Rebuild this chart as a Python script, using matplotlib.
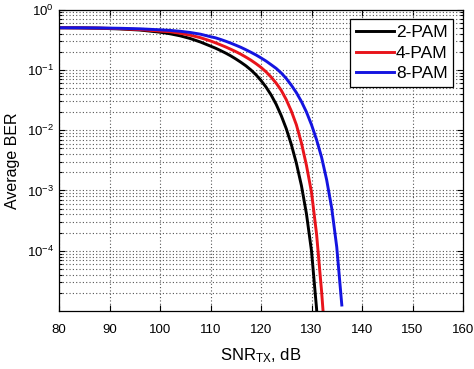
import numpy as np
import matplotlib
matplotlib.use("Agg")
import matplotlib.pyplot as plt
from matplotlib.ticker import LogLocator, NullFormatter

plt.rcParams["font.family"] = ["Liberation Sans", "DejaVu Sans"]
plt.rcParams["mathtext.fontset"] = "custom"
plt.rcParams["mathtext.rm"] = "Liberation Sans"
plt.rcParams["mathtext.it"] = "Liberation Sans"

# values (average BER vs SNR_TX in dB)
snr_2pam = [80, 84, 88, 92, 96, 100, 102, 104, 106, 108, 110, 111, 112, 113,
            114, 115, 116, 117, 118, 119, 120, 121, 122, 123, 124, 125, 126,
            127, 128, 129, 130, 131, 132]
ber_2pam = [0.500, 0.497, 0.490, 0.478, 0.458, 0.422, 0.397, 0.367, 0.331,
            0.290, 0.248, 0.229, 0.209, 0.190, 0.171, 0.152, 0.134, 0.117,
            0.0998, 0.083, 0.0667, 0.0518, 0.0384, 0.0269, 0.0175, 0.0106,
            0.0058, 0.00284, 0.00121, 4.1e-4, 9.9e-5, 1.1e-5, 6.3e-7]

snr_4pam = [80, 84, 88, 92, 96, 100, 102, 104, 106, 108, 110, 111, 112, 113,
            114, 115, 116, 117, 118, 119, 120, 121, 122, 123, 124, 125, 126,
            127, 128, 129, 130, 131, 132, 133]
ber_4pam = [0.500, 0.498, 0.493, 0.483, 0.466, 0.44, 0.429, 0.405, 0.376,
            0.342, 0.302, 0.281, 0.260, 0.240, 0.220, 0.201, 0.182, 0.163,
            0.145, 0.127, 0.110, 0.0927, 0.076, 0.0603, 0.0459, 0.0321,
            0.0208, 0.0123, 0.00617, 0.00261, 9.3e-4, 1.9e-4, 2.1e-5, 1.6e-6]

snr_8pam = [80, 84, 88, 92, 96, 100, 102, 104, 106, 108, 110, 111, 112, 113,
            114, 115, 116, 117, 118, 119, 120, 121, 122, 123, 124, 125, 126,
            127, 128, 129, 130, 131, 132, 133, 134, 135, 136]
ber_8pam = [0.500, 0.499, 0.496, 0.490, 0.480, 0.462, 0.452, 0.437, 0.417,
            0.391, 0.355, 0.340, 0.320, 0.299, 0.278, 0.257, 0.237, 0.216,
            0.196, 0.177, 0.158, 0.140, 0.122, 0.106, 0.089, 0.072, 0.0558,
            0.042, 0.0299, 0.020, 0.0123, 0.00695, 0.00355, 0.0015, 5.1e-4,
            1.15e-4, 1.26e-5]

labels = ["2-PAM", "4-PAM", "8-PAM"]
colors = ["#000000", "#e8141b", "#1414e0"]

fig = plt.figure(figsize=(4.74, 3.69), dpi=100)
ax = fig.add_axes([0.1245, 0.157, 0.8523, 0.817])

for x, y, lab, c in zip([snr_2pam, snr_4pam, snr_8pam],
                        [ber_2pam, ber_4pam, ber_8pam], labels, colors):
    ax.semilogy(x, y, color=c, lw=2.1, label=lab)

ax.set_xlim(80, 160)
ax.set_ylim(1e-5, 1)
ax.set_xticks(np.arange(80, 161, 10))
ax.yaxis.set_minor_locator(LogLocator(base=10, subs=np.arange(2, 10), numticks=20))
ax.yaxis.set_minor_formatter(NullFormatter())
ax.set_yticks([1e-4, 1e-3, 1e-2, 1e-1, 1e0])
ax.set_yticklabels([r"$10^{-4}$", r"$10^{-3}$", r"$10^{-2}$", r"$10^{-1}$", r"$10^{0}$"])

ax.grid(True, which="major", ls=(0, (1, 2)), color="#555555", lw=0.8)
ax.grid(True, which="minor", axis="y", ls=(0, (1, 2)), color="#555555", lw=0.8)
ax.tick_params(which="both", direction="in", top=True, right=True,
               labelsize=9.5, length=4, width=0.8)
ax.tick_params(axis="x", pad=9)
ax.tick_params(which="minor", length=2)
for s in ax.spines.values():
    s.set_linewidth(0.9)

ax.set_xlabel(r"SNR$_{\mathrm{TX}}$, dB", fontsize=12, labelpad=8)
ax.set_ylabel("Average BER", fontsize=11.5, labelpad=5)

leg = ax.legend(loc="upper right", fontsize=12.5, fancybox=False, framealpha=1,
                edgecolor="black", handlelength=2.2, handletextpad=0.1,
                borderaxespad=0.55, labelspacing=0.3, borderpad=0.35)
leg.get_frame().set_linewidth(0.9)

fig.savefig("out.png", dpi=100)
